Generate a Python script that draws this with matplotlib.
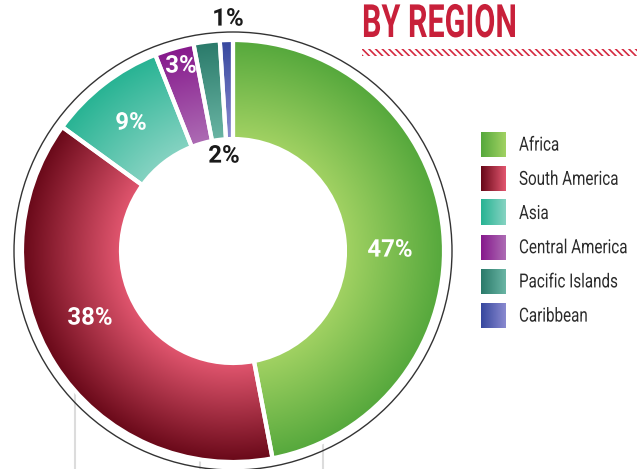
import numpy as np
import matplotlib
matplotlib.use("Agg")
import matplotlib.pyplot as plt
from matplotlib.patches import Circle, Rectangle, Wedge
from matplotlib.colors import to_rgb
from matplotlib.patheffects import AbstractPathEffect
from matplotlib.transforms import Affine2D

# ---------------- data ----------------
categories = ["Africa", "South America", "Asia", "Central America", "Pacific Islands", "Caribbean"]
values = [47, 38, 9, 3, 2, 1]
labels = ["47%", "38%", "9%", "3%", "2%", "1%"]
dark_colors = ["#55a83c", "#680818", "#27b393", "#86198c", "#2a7a6a", "#36479e"]
light_colors = ["#a2d263", "#e2566f", "#86d3c2", "#ad6cb4", "#6ab5a4", "#8a8ad0"]
title = "BY REGION"

# ---------------- layout (pixels) ----------------
W, H = 637, 469
cx, cy_px = 233, 251
r_out, r_in = 211, 112
r_ring = 219
label_pos_px = [(390, 250), (90, 318), (131, 123), (181, 66), (224, 156), (228, 19)]
label_colors = ["white", "white", "white", "white", "#1a1a1a", "#1a1a1a"]

FONT = ["Roboto", "Liberation Sans", "DejaVu Sans"]
plt.rcParams["font.family"] = FONT

fig = plt.figure(figsize=(W / 100, H / 100), dpi=100)
ax = fig.add_axes([0, 0, 1, 1])
ax.set_xlim(0, W)
ax.set_ylim(0, H)
cy = H - cy_px
renderer = fig.canvas.get_renderer()


def Y(y):
    return H - y


class Stretch(AbstractPathEffect):
    """Stretch glyph outlines vertically about a display anchor (gives a condensed look)."""
    def __init__(self, sy, x0, y0):
        super().__init__()
        self.sy, self.x0, self.y0 = sy, x0, y0

    def draw_path(self, renderer, gc, tpath, affine, rgbFace=None):
        aff = affine + Affine2D().translate(-self.x0, -self.y0).scale(1, self.sy) \
            .translate(self.x0, self.y0)
        renderer.draw_path(gc, tpath, aff, rgbFace)


def ctext(x, y, s, size, target_w=None, ratio=None, ha="left", **kw):
    """Text whose width matches target_w while glyph height matches `size`."""
    t = ax.text(x, Y(y), s, fontsize=size, ha=ha, **kw)
    if ratio is None:
        w = t.get_window_extent(renderer).width
        ratio = target_w / w
    t.set_fontsize(size * ratio)
    x0, y0 = ax.transData.transform((x, Y(y)))
    t.set_path_effects([Stretch(1 / ratio, x0, y0)])
    return t, ratio


# background vertical gray lines (behind the donut)
for x in [75, 200, 323]:
    ax.plot([x, x], [Y(380), Y(H + 5)], color="#dcdcdc", lw=1.5, zorder=0)

# outer ring
ax.add_patch(Circle((cx, cy), r_ring, facecolor="none", edgecolor="#333333", lw=1.0, zorder=1))

wedges, _ = ax.pie(values, radius=r_out, center=(cx, cy), startangle=90, counterclock=False,
                   colors=dark_colors, wedgeprops=dict(width=r_out - r_in, linewidth=0),
                   frame=True)
for w in wedges:
    w.set_zorder(2)

# radial gradient image clipped to wedges
xs = np.linspace(0, W, W * 2)
ys = np.linspace(0, H, H * 2)
XX, YY = np.meshgrid(xs, ys)
RR = np.hypot(XX - cx, YY - cy)
T = np.clip((RR - r_in) / (r_out - r_in), 0, 1)[..., None]
for w, dc, lc in zip(wedges, dark_colors, light_colors):
    d = np.array(to_rgb(dc)); l = np.array(to_rgb(lc))
    img = l * (1 - T) + d * T
    im = ax.imshow(img, extent=[0, W, 0, H], origin="lower", zorder=3, interpolation="bilinear")
    im.set_clip_path(w)
    edge = Wedge(w.center, w.r, w.theta1, w.theta2, width=w.width,
                 facecolor="none", edgecolor="white", lw=3, zorder=4)
    ax.add_patch(edge)

# percentage labels
_, pr = ctext(label_pos_px[0][0], label_pos_px[0][1], labels[0], 17.5, target_w=45,
              ha="center", va="center", color=label_colors[0], fontweight="bold", zorder=6)
for lab, (x, y), c in zip(labels[1:], label_pos_px[1:], label_colors[1:]):
    ctext(x, y, lab, 17.5, ratio=pr, ha="center", va="center", color=c,
          fontweight="bold", zorder=6)

# title and hatched underline
ctext(362, 37, title, 33, target_w=155, ha="left", va="baseline", color="#c8203a",
      fontweight="bold", zorder=6)
plt.rcParams["hatch.linewidth"] = 1.2
ax.add_patch(Rectangle((362, Y(56)), W - 362 + 5, 7, facecolor="none", edgecolor="#d42a40",
                       hatch="\\\\\\\\\\", lw=0, zorder=6))

# legend
sq = 25
row0 = 132
step = 34.2
grad = np.linspace(0, 1, 64)[None, :, None]
tmp = ax.text(0, 0, categories[1], fontsize=14)
lr = 100 / tmp.get_window_extent(renderer).width
tmp.remove()
for i, (cat, dc, lc) in enumerate(zip(categories, dark_colors, light_colors)):
    top = row0 + i * step
    d = np.array(to_rgb(dc)); l = np.array(to_rgb(lc))
    img = d * (1 - grad) + l * grad
    ax.imshow(np.repeat(img, 4, axis=0), extent=[481, 481 + sq, Y(top + sq), Y(top)],
              origin="lower", zorder=6, interpolation="bilinear")
    ctext(519, top + sq / 2 + 1, cat, 14, ratio=lr, ha="left", va="center",
          color="#2b2b2b", zorder=6)

ax.set_xlim(0, W)
ax.set_ylim(0, H)
ax.set_aspect("equal")
ax.axis("off")
fig.savefig("out.png", dpi=100)
